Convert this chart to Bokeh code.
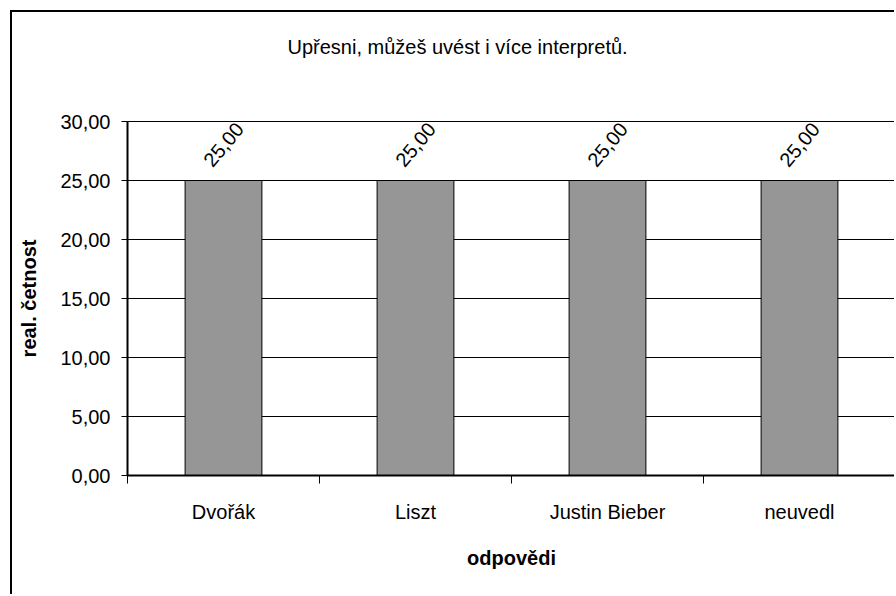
from bokeh.plotting import figure
from bokeh.models import (Range1d, FixedTicker, CustomJSTickFormatter, ColumnDataSource,
                          LabelSet, Title, LinearAxis)
from bokeh.core.properties import value
from bokeh.embed import file_html
from bokeh.resources import INLINE

# ---- data ----
title_text = "Upřesni, můžeš uvést i více interpretů."
categories = ["Dvořák", "Liszt", "Justin Bieber", "neuvedl"]
values = [25.00, 25.00, 25.00, 25.00]
y_ticks = [0, 5, 10, 15, 20, 25, 30]
x_label = "odpovědi"
y_label = "real. četnost"

FONT = "Liberation Sans"
FS = "20px"

n = len(categories)
centers = [i + 0.5 for i in range(n)]
bounds = [float(i) for i in range(n + 1)]
labels = [f"{v:.2f}".replace(".", ",") for v in values]

src = ColumnDataSource(dict(x=centers, top=values, lab=labels, cat=categories))

p = figure(width=884, height=584, output_backend="svg", toolbar_location=None,
           x_range=Range1d(0, n), y_range=Range1d(0, 30),
           min_border_left=115, min_border_right=1, min_border_top=109, min_border_bottom=121)
p.styles = {"border-left": "2px solid black", "border-top": "2px solid black",
            "margin-left": "10px", "margin-top": "10px"}
p.background_fill_color = "white"
p.border_fill_color = "white"
p.outline_line_color = "black"
p.outline_line_width = 1

p.vbar(x="x", top="top", width=0.4, source=src, fill_color="#969696",
       line_color="black", line_width=1)

# y axis
yax = p.yaxis[0]
yax.ticker = FixedTicker(ticks=y_ticks, minor_ticks=[])
yax.formatter = CustomJSTickFormatter(code="return tick.toFixed(2).replace('.', ',');")
yax.axis_line_color = "black"
yax.axis_line_width = 2
yax.major_tick_in = 0
yax.major_tick_out = 6
yax.major_tick_line_color = "black"
yax.minor_tick_line_color = None
yax.major_label_standoff = 11
yax.major_label_text_font = FONT
yax.major_label_text_font_size = FS
yax.major_label_text_color = "black"
yax.axis_label = y_label
yax.axis_label_text_font = FONT
yax.axis_label_text_font_size = FS
yax.axis_label_text_font_style = "bold"
yax.axis_label_text_color = "black"
yax.axis_label_standoff = 17

p.ygrid.ticker = FixedTicker(ticks=y_ticks)
p.ygrid.grid_line_color = "black"
p.ygrid.grid_line_width = 1
p.xgrid.grid_line_color = None

# x axis: labels at category centres, tick marks at boundaries
xax = p.xaxis[0]
xax.ticker = FixedTicker(ticks=centers, minor_ticks=bounds)
xax.formatter = CustomJSTickFormatter(args=dict(cats=categories),
                                      code="return cats[Math.floor(tick)];")
xax.axis_line_color = "black"
xax.axis_line_width = 2
xax.major_tick_line_color = None
xax.minor_tick_line_color = "black"
xax.minor_tick_in = 0
xax.minor_tick_out = 8
xax.major_label_standoff = 17
xax.major_label_text_font = FONT
xax.major_label_text_font_size = FS
xax.major_label_text_color = "black"
xax.axis_label = x_label
xax.axis_label_text_font = FONT
xax.axis_label_text_font_size = FS
xax.axis_label_text_font_style = "bold"
xax.axis_label_text_color = "black"
xax.axis_label_standoff = 21

# value labels
ls = LabelSet(x="x", y="top", text="lab", source=src, angle=50, angle_units="deg",
              y_offset=36, text_align="center", text_baseline="middle",
              text_font=value(FONT), text_font_size=value(FS), text_color="black")
p.add_layout(ls)

# invisible spacer between plot area and chart title
spacer = LinearAxis(ticker=FixedTicker(ticks=[n / 2], minor_ticks=[]),
                    formatter=CustomJSTickFormatter(code="return '';"),
                    axis_line_color=None, major_tick_line_color=None,
                    minor_tick_line_color=None, major_tick_in=0, major_tick_out=64,
                    minor_tick_in=0, minor_tick_out=0, major_label_standoff=0)
p.add_layout(spacer, "above")

# chart title
p.title = Title(text=title_text, align="left", offset=160, vertical_align="bottom",
                standoff=0, text_font=FONT, text_font_size=FS,
                text_font_style="normal", text_color="black")

open("out.html", "w").write(file_html(p, INLINE))
